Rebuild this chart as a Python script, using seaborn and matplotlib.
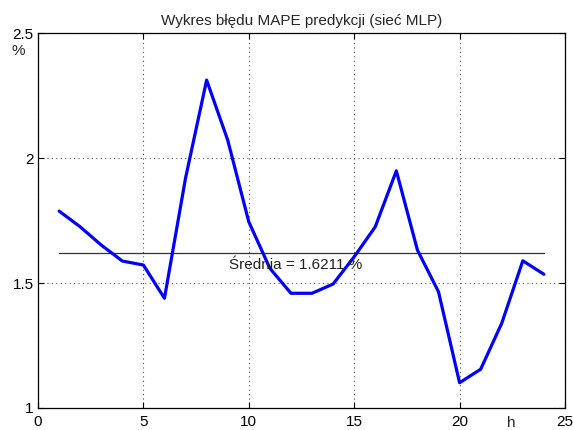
import numpy as np
import pandas as pd
import matplotlib
matplotlib.use("Agg")
import matplotlib.pyplot as plt
import seaborn as sns

hours = list(range(1, 25))
mape = [1.788, 1.725, 1.652, 1.588, 1.572, 1.439, 1.92, 2.312, 2.072, 1.745,
        1.559, 1.459, 1.459, 1.496, 1.605, 1.725, 1.949, 1.632, 1.465, 1.101,
        1.155, 1.339, 1.589, 1.535]
mean_val = 1.6211
title = "Wykres błędu MAPE predykcji (sieć MLP)"
xticks = [0, 5, 10, 15, 20, 25]
yticks = [1, 1.5, 2, 2.5]

sns.set_style("white")
plt.rcParams['font.family'] = ['Liberation Sans', 'DejaVu Sans']

df = pd.DataFrame({"h": hours, "mape": mape})

fig = plt.figure(figsize=(5.73, 4.30), dpi=100)
ax = fig.add_axes([0.0663, 0.0512, 0.9197, 0.8718])

sns.lineplot(data=df, x="h", y="mape", ax=ax, color="#0000ff", linewidth=2.3, zorder=3)
ax.plot([hours[0], hours[-1]], [mean_val, mean_val], color="#333333", linewidth=0.9, zorder=2)
ax.text(12.2, 1.572, "Średnia = %.4f %%" % mean_val, ha="center", va="center",
        fontsize=11, color="#222222")

ax.set_xlim(0, 25)
ax.set_ylim(1, 2.5)
ax.set_xticks(xticks)
ax.set_yticks(yticks)
ax.set_xticklabels([str(t) for t in xticks])
ax.set_yticklabels(["1", "1.5", "2", "2.5"])
ax.grid(True, linestyle=(0, (1, 3)), color="#555555", linewidth=0.8)
ax.tick_params(direction="in", length=4, width=0.8, labelsize=11, colors="black",
               top=True, right=True, bottom=True, left=True, pad=3)
ax.tick_params(axis="x", pad=5)
for s in ax.spines.values():
    s.set_color("black")
    s.set_linewidth(0.9)
ax.set_xlabel("")
ax.set_ylabel("")
ax.set_title(title, fontsize=11, pad=6)
fig.text(18 / 573, 1 - 51 / 430, "%", fontsize=11, ha="center", va="center")
fig.text(511 / 573, 1 - 423 / 430, "h", fontsize=11, ha="center", va="center")

fig.savefig("out.png", dpi=100, facecolor="white")
